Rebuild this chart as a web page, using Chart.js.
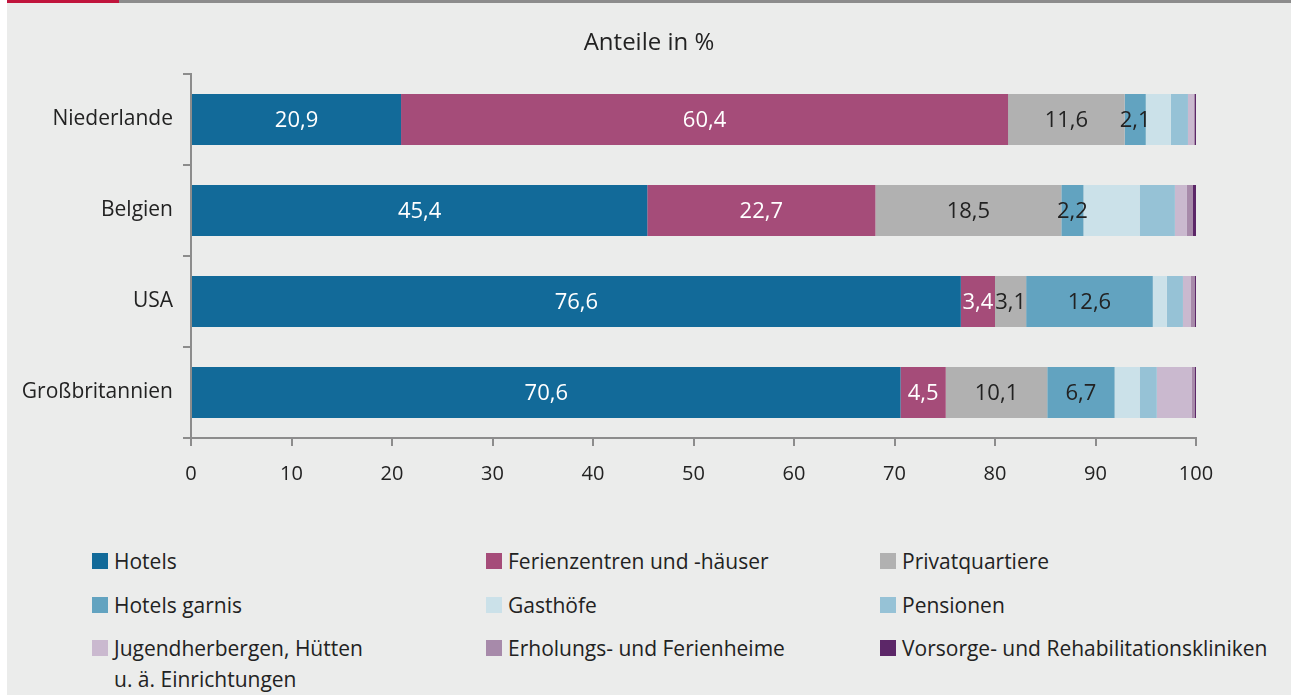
<!DOCTYPE html>
<html lang="de">
<head>
<meta charset="utf-8">
<script src="https://cdn.jsdelivr.net/npm/chart.js@4"></script>
<style>
  body { margin: 0; background: #fff; font-family: "Open Sans", sans-serif; }
  #frame { position: absolute; left: 7px; top: 0; width: 1284px; height: 695px; background: #ebeceb; overflow: hidden; }
  #line-grey { position: absolute; left: 0; top: 0; width: 1284px; height: 3px; background: #8c8c8c; }
  #line-red { position: absolute; left: 0; top: 0; width: 112px; height: 3px; background: #c0143c; }
  #chart-box { position: absolute; left: 0; top: 0; width: 1284px; height: 501px; }
  .leg-item { position: absolute; font-size: 21px; line-height: 31px; color: #222; white-space: pre-line; }
  .leg-item span.sq { position: absolute; left: 0; top: 7px; width: 16px; height: 16px; }
  .leg-item span.txt { display: block; margin-left: 22px; }
</style>
</head>
<body>
<div id="frame">
  <div id="line-grey"></div>
  <div id="line-red"></div>
  <div id="chart-box"><canvas id="chart" width="1284" height="501"></canvas></div>
  <div id="legend"></div>
</div>
<script>
const countries = ['Niederlande', 'Belgien', 'USA', 'Großbritannien'];

const seriesNames = [
  'Hotels', 'Ferienzentren und -häuser', 'Privatquartiere',
  'Hotels garnis', 'Gasthöfe', 'Pensionen',
  'Jugendherbergen, Hütten\nu. ä. Einrichtungen', 'Erholungs- und Ferienheime', 'Vorsorge- und Rehabilitationskliniken'
];
const seriesColors = [
  '#126a99', '#a54c79', '#b1b1b1',
  '#62a3c0', '#cbe1e9', '#96c2d6',
  '#cab9cf', '#a78aaa', '#5c2768'
];

// values per country: Niederlande, Belgien, USA, Großbritannien
const hotels      = [20.9, 45.4, 76.6, 70.6];
const ferien      = [60.4, 22.7, 3.4, 4.5];
const privat      = [11.6, 18.5, 3.1, 10.1];
const garnis      = [2.1, 2.2, 12.6, 6.7];
const gasthoefe   = [2.5, 5.6, 1.4, 2.5];
const pensionen   = [1.7, 3.5, 1.6, 1.7];
const jugend      = [0.6, 1.2, 0.8, 3.5];
const erholung    = [0.1, 0.6, 0.4, 0.3];
const vorsorge    = [0.2, 0.3, 0.1, 0.1];

const allSeries = [hotels, ferien, privat, garnis, gasthoefe, pensionen, jugend, erholung, vorsorge];

const xTicks = [0, 10, 20, 30, 40, 50, 60, 70, 80, 90, 100];
const chartTitle = 'Anteile in %';

const axisGrey = '#8c8c8c';
const textCol = '#222';

// numbers inside the first four segments + the title centred on the whole canvas
const extras = {
  id: 'extras',
  afterDraw(chart) {
    const ctx = chart.ctx;
    ctx.save();
    ctx.textAlign = 'center';
    ctx.textBaseline = 'middle';
    ctx.font = '22px "Open Sans"';
    chart.data.datasets.forEach((ds, i) => {
      if (i > 3) return;
      ctx.fillStyle = i < 2 ? '#ffffff' : textCol;
      chart.getDatasetMeta(i).data.forEach((bar, j) => {
        const txt = ds.data[j].toFixed(1).replace('.', ',');
        ctx.fillText(txt, (bar.x + bar.base) / 2, bar.y + 1);
      });
    });
    ctx.fillStyle = textCol;
    ctx.font = '24px "Open Sans"';
    ctx.fillText(chartTitle, chart.width / 2, 43);
    ctx.restore();
  }
};

const datasets = allSeries.map((vals, i) => ({
  label: seriesNames[i].replace('\n', ' '),
  data: vals,
  backgroundColor: seriesColors[i],
  borderWidth: 0,
  categoryPercentage: 1,
  barPercentage: 0.56
}));

new Chart(document.getElementById('chart'), {
  type: 'bar',
  data: { labels: countries, datasets },
  plugins: [extras],
  options: {
    indexAxis: 'y',
    responsive: false,
    animation: false,
    layout: { padding: { left: 0, right: 95, top: 74, bottom: 0 } },
    plugins: {
      legend: { display: false },
      tooltip: { enabled: false },
      title: { display: false }
    },
    scales: {
      x: {
        stacked: true,
        min: 0,
        max: 100,
        afterBuildTicks: s => { s.ticks = xTicks.map(v => ({ value: v })); },
        afterFit: s => { s.height = 63; },
        grid: { drawOnChartArea: false, drawTicks: true, tickLength: 8, color: axisGrey, lineWidth: 2 },
        border: { display: true, color: axisGrey, width: 2 },
        ticks: { color: textCol, padding: 16, maxRotation: 0, font: { family: 'Open Sans', size: 20 } }
      },
      y: {
        stacked: true,
        afterFit: s => { s.width = 184; },
        grid: { drawOnChartArea: false, drawTicks: true, tickLength: 8, offset: true, color: axisGrey, lineWidth: 2 },
        border: { display: true, color: axisGrey, width: 2 },
        ticks: { color: textCol, padding: 10, font: { family: 'Open Sans', size: 21 } }
      }
    }
  }
});

// legend in three columns below the chart
const legCols = [85, 479, 873];
const legRows = [546, 590, 633];
const legend = document.getElementById('legend');
seriesNames.forEach((name, i) => {
  const item = document.createElement('div');
  item.className = 'leg-item';
  item.style.left = legCols[i % 3] + 'px';
  item.style.top = legRows[Math.floor(i / 3)] + 'px';
  item.innerHTML = '<span class="sq" style="background:' + seriesColors[i] + '"></span><span class="txt"></span>';
  item.querySelector('.txt').textContent = name;
  legend.appendChild(item);
});
</script>
</body>
</html>
